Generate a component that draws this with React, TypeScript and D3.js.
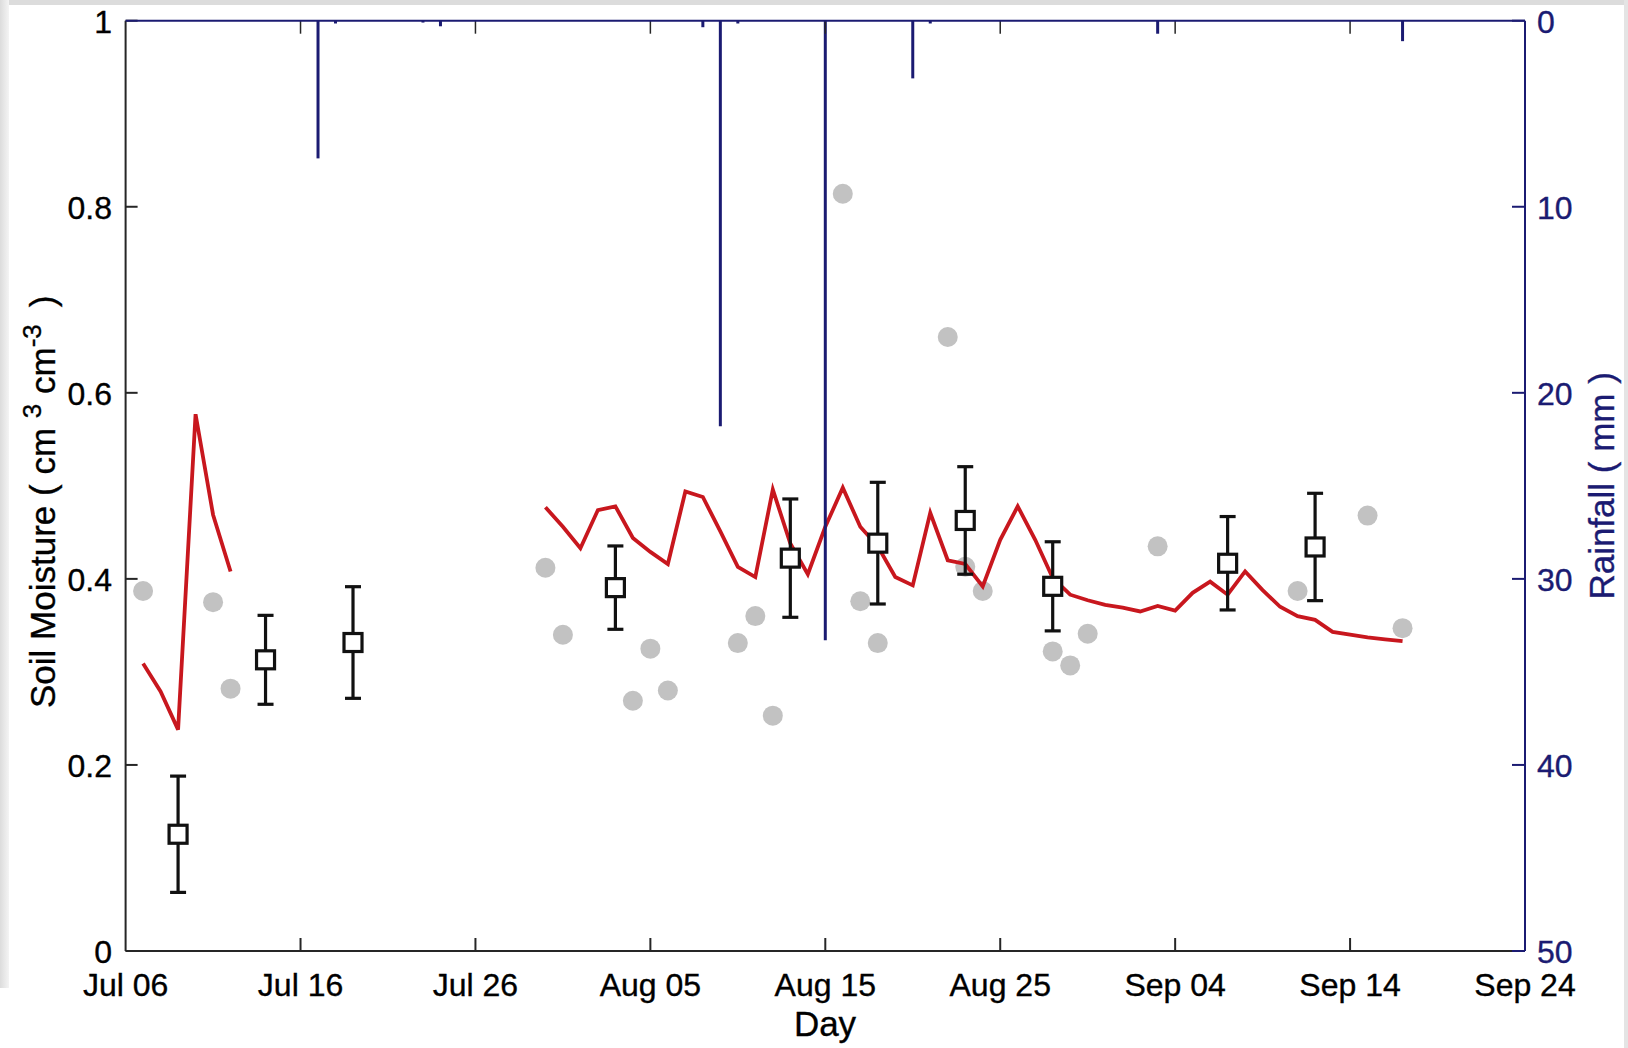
import React from 'react';
import * as d3 from 'd3';

// Canvas and plot frame
const W = 1628;
const H = 1048;
const PLOT = { left: 125.6, right: 1525, top: 20.7, bottom: 951 };

// X axis: days counted from Jul 06
const xTickDays = [0, 10, 20, 30, 40, 50, 60, 70, 80];
const xTickLabels = ['Jul 06', 'Jul 16', 'Jul 26', 'Aug 05', 'Aug 15', 'Aug 25', 'Sep 04', 'Sep 14', 'Sep 24'];

// Left axis (soil moisture) and right axis (rainfall, reversed)
const yTicks = [0, 0.2, 0.4, 0.6, 0.8, 1];
const yTickLabels = ['0', '0.2', '0.4', '0.6', '0.8', '1'];
const rainTicks = [0, 10, 20, 30, 40, 50];

// Daily rainfall (mm)
const rainDays = [11, 12, 17, 18, 33, 34, 35, 40, 45, 46, 59, 73];
const rainMm = [7.4, 0.15, 0.1, 0.3, 0.35, 21.8, 0.15, 33.3, 3.1, 0.15, 0.7, 1.1];

// Modelled soil moisture (red line), two runs
const modelDaysA = [1, 2, 3, 4, 5, 6];
const modelA = [0.309, 0.279, 0.238, 0.577, 0.469, 0.408];
const modelDaysB = [
  24, 25, 26, 27, 28, 29, 30, 31, 32, 33, 34, 35, 36, 37, 38, 39, 40, 41, 42, 43, 44, 45, 46, 47, 48,
  49, 50, 51, 52, 53, 54, 55, 56, 57, 58, 59, 60, 61, 62, 63, 64, 65, 66, 67, 68, 69, 70, 71, 72, 73,
];
const modelB = [
  0.477, 0.456, 0.433, 0.474, 0.478, 0.444, 0.429, 0.416, 0.494, 0.488, 0.451, 0.413, 0.402, 0.496,
  0.438, 0.405, 0.456, 0.498, 0.456, 0.435, 0.402, 0.393, 0.471, 0.42, 0.416, 0.392, 0.442, 0.478,
  0.442, 0.401, 0.383, 0.377, 0.372, 0.369, 0.365, 0.371, 0.366, 0.385, 0.397, 0.383, 0.408, 0.388,
  0.37, 0.36, 0.356, 0.343, 0.34, 0.337, 0.335, 0.333,
];

// Satellite retrievals (grey dots)
const dotDays = [1, 5, 6, 24, 25, 29, 30, 31, 35, 36, 37, 41, 42, 43, 47, 48, 49, 53, 54, 55, 59, 67, 71, 73];
const dotValues = [
  0.387, 0.375, 0.282, 0.412, 0.34, 0.269, 0.325, 0.28, 0.331, 0.36, 0.253, 0.814, 0.376, 0.331,
  0.66, 0.413, 0.387, 0.322, 0.307, 0.341, 0.435, 0.387, 0.468, 0.347,
];

// Field measurements: mean and standard deviation
const fieldDays = [3, 8, 13, 28, 38, 43, 48, 53, 63, 68];
const fieldMean = [0.1255, 0.313, 0.3316, 0.3906, 0.4223, 0.4384, 0.4628, 0.392, 0.4168, 0.4343];
const fieldSd = [0.0625, 0.0478, 0.06, 0.0448, 0.0636, 0.0654, 0.0578, 0.0479, 0.0502, 0.0577];

const NAVY = '#1b1b72';
const RED = '#c8171e';
const GREY = '#c2c2c2';
const AXIS = '#262626';
const FONT = '"Liberation Sans", Arial, Helvetica, sans-serif';
const NBSP = '\u00a0';

export default function App() {
  const x = d3.scaleLinear().domain([0, 80]).range([PLOT.left, PLOT.right]);
  const y = d3.scaleLinear().domain([0, 1]).range([PLOT.bottom, PLOT.top]);
  const yRain = d3.scaleLinear().domain([0, 50]).range([PLOT.top, PLOT.bottom]);

  const line = d3
    .line<[number, number]>()
    .x((d) => x(d[0]))
    .y((d) => y(d[1]));
  const pathA = line(modelDaysA.map((d, i) => [d, modelA[i]]) as [number, number][]) || '';
  const pathB = line(modelDaysB.map((d, i) => [d, modelB[i]]) as [number, number][]) || '';

  const tickLen = 13;
  const sq = 18;
  const cap = 8;
  const textStroke = { stroke: '#000', strokeWidth: 0.35 };
  const navyStroke = { stroke: NAVY, strokeWidth: 0.35 };

  return (
    <svg
      width={W}
      height={H}
      viewBox={`0 0 ${W} ${H}`}
      style={{ position: 'absolute', left: 0, top: 0, display: 'block', background: '#fff' }}
      fontFamily={FONT}
    >
      <defs>
        <linearGradient id="edge" x1="0" x2="1" y1="0" y2="0">
          <stop offset="0" stopColor="#dcdcdc" />
          <stop offset="1" stopColor="#f4f4f4" />
        </linearGradient>
      </defs>
      <rect x={0} y={0} width={W} height={H} fill="#fff" />
      {/* page edges */}
      <rect x={0} y={0} width={W} height={5} fill="#dcdcdc" />
      <rect x={0} y={0} width={9} height={988} fill="url(#edge)" />
      <rect x={W - 4} y={0} width={4} height={H} fill="#e4e4e4" />

      {/* grey satellite dots */}
      {dotDays.map((d, i) => (
        <circle key={`dot${i}`} cx={x(d)} cy={y(dotValues[i])} r={10} fill={GREY} />
      ))}

      {/* model */}
      <path d={pathA} fill="none" stroke={RED} strokeWidth={3.8} strokeLinejoin="miter" />
      <path d={pathB} fill="none" stroke={RED} strokeWidth={3.8} strokeLinejoin="miter" />

      {/* rainfall bars hanging from the top */}
      {rainDays.map((d, i) => (
        <line
          key={`rain${i}`}
          x1={x(d)}
          x2={x(d)}
          y1={yRain(0)}
          y2={yRain(rainMm[i])}
          stroke={NAVY}
          strokeWidth={3}
        />
      ))}

      {/* field measurements with error bars */}
      {fieldDays.map((d, i) => {
        const cx = x(d);
        const cy = y(fieldMean[i]);
        const top = y(fieldMean[i] + fieldSd[i]);
        const bot = y(fieldMean[i] - fieldSd[i]);
        return (
          <g key={`f${i}`} stroke="#111" strokeWidth={3.2} fill="none">
            <line x1={cx} x2={cx} y1={top} y2={cy - sq / 2} />
            <line x1={cx} x2={cx} y1={cy + sq / 2} y2={bot} />
            <line x1={cx - cap} x2={cx + cap} y1={top} y2={top} />
            <line x1={cx - cap} x2={cx + cap} y1={bot} y2={bot} />
            <rect x={cx - sq / 2} y={cy - sq / 2} width={sq} height={sq} fill="#fff" />
          </g>
        );
      })}

      {/* left axis */}
      <line x1={PLOT.left} x2={PLOT.left} y1={PLOT.top} y2={PLOT.bottom} stroke={AXIS} strokeWidth={2} />
      {yTicks.map((t, i) => (
        <g key={`yt${i}`}>
          <line x1={PLOT.left} x2={PLOT.left + 12} y1={y(t)} y2={y(t)} stroke={AXIS} strokeWidth={2} />
          <text x={112} y={y(t) + 12} textAnchor="end" fontSize={32} fill="#000" {...textStroke}>
            {yTickLabels[i]}
          </text>
        </g>
      ))}

      {/* bottom and top date ticks */}
      <line x1={PLOT.left} x2={PLOT.right} y1={PLOT.bottom} y2={PLOT.bottom} stroke={AXIS} strokeWidth={2} />
      {xTickDays.map((d, i) => (
        <g key={`xt${i}`}>
          {i > 0 && i < xTickDays.length - 1 && (
            <>
              <line x1={x(d)} x2={x(d)} y1={PLOT.bottom} y2={PLOT.bottom - tickLen} stroke={AXIS} strokeWidth={2} />
              <line x1={x(d)} x2={x(d)} y1={PLOT.top} y2={PLOT.top + tickLen} stroke={AXIS} strokeWidth={1.5} />
            </>
          )}
          <text x={x(d)} y={996} textAnchor="middle" fontSize={32} fill="#000" {...textStroke}>
            {xTickLabels[i]}
          </text>
        </g>
      ))}

      {/* rainfall axis (top edge and right side) */}
      <line x1={PLOT.left} x2={PLOT.right} y1={PLOT.top} y2={PLOT.top} stroke={NAVY} strokeWidth={2} />
      <line x1={PLOT.right} x2={PLOT.right} y1={PLOT.top} y2={PLOT.bottom} stroke={NAVY} strokeWidth={2} />
      {rainTicks.map((t, i) => (
        <g key={`rt${i}`}>
          <line x1={PLOT.right - 13} x2={PLOT.right} y1={yRain(t)} y2={yRain(t)} stroke={NAVY} strokeWidth={2} />
          <text x={1537} y={yRain(t) + 12} textAnchor="start" fontSize={32} fill={NAVY} {...navyStroke}>
            {t}
          </text>
        </g>
      ))}

      {/* axis titles */}
      <text x={825} y={1036} textAnchor="middle" fontSize={35} fill="#000" {...textStroke}>
        Day
      </text>
      <text transform="translate(55,708) rotate(-90)" textAnchor="start" fontSize={35} fill="#000" {...textStroke}>
        <tspan>{`Soil Moisture ( cm${NBSP}`}</tspan>
        <tspan dy={-14} fontSize={26}>3</tspan>
        <tspan dy={14}>{`${NBSP}cm`}</tspan>
        <tspan dy={-14} fontSize={26}>{`-3${NBSP}`}</tspan>
        <tspan dy={14}>{`${NBSP})`}</tspan>
      </text>
      <text
        transform={`translate(1614,${(PLOT.top + PLOT.bottom) / 2}) rotate(-90)`}
        textAnchor="middle"
        fontSize={35}
        fill={NAVY}
        {...navyStroke}
      >
        Rainfall ( mm )
      </text>
    </svg>
  );
}
